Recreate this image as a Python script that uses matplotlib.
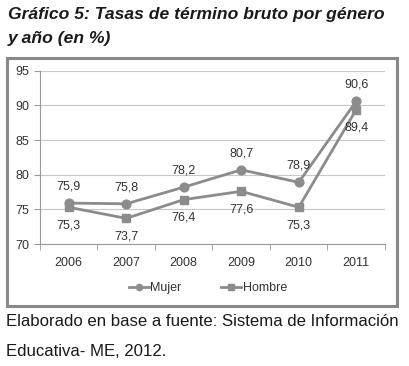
import matplotlib
matplotlib.use("Agg")
import matplotlib.pyplot as plt
from matplotlib.patches import Rectangle

plt.rcParams['font.family'] = ['Liberation Sans', 'DejaVu Sans']

years = ['2006', '2007', '2008', '2009', '2010', '2011']
mujer = [75.9, 75.8, 78.2, 80.7, 78.9, 90.6]
hombre = [75.3, 73.7, 76.4, 77.6, 75.3, 89.4]
mujer_labels = ['75,9', '75,8', '78,2', '80,7', '78,9', '90,6']
hombre_labels = ['75,3', '73,7', '76,4', '77,6', '75,3', '89,4']
yticks = [70, 75, 80, 85, 90, 95]

W, H = 410, 366
fig = plt.figure(figsize=(W / 100, H / 100), dpi=100)

def fx(px):
    return px / W

def fy(py):
    return 1 - py / H

# titulo
fig.text(fx(8), fy(15), 'Gráfico 5: Tasas de término bruto por género',
         fontsize=12.6, fontweight='bold', fontstyle='italic', color='#1a1a1a', va='center')
fig.text(fx(8), fy(38), 'y año (en %)',
         fontsize=12.6, fontweight='bold', fontstyle='italic', color='#1a1a1a', va='center')

# marco del grafico
fig.patches.append(Rectangle((fx(7), fy(306)), fx(397) - fx(7), fy(58) - fy(306),
                             transform=fig.transFigure, fill=False,
                             edgecolor='#888888', linewidth=2.2))

ax = fig.add_axes([fx(40), fy(244), fx(385) - fx(40), fy(70.7) - fy(244)])
x = list(range(len(years)))
col = '#8c8c8c'
ax.plot(x, mujer, color=col, lw=2.0, marker='o', ms=6.3, label='Mujer')
ax.plot(x, hombre, color=col, lw=2.0, marker='s', ms=5.8, label='Hombre')

for i in x:
    ax.annotate(mujer_labels[i], (i, mujer[i]), xytext=(0, 12), textcoords='offset points',
                ha='center', va='center', fontsize=9, color='#333333')
    ax.annotate(hombre_labels[i], (i, hombre[i]), xytext=(0, -13), textcoords='offset points',
                ha='center', va='center', fontsize=9, color='#333333')

ax.set_xlim(-0.5, 5.5)
ax.set_ylim(70, 95)
ax.set_yticks(yticks)
ax.set_xticks(x)
ax.set_xticklabels(years)
ax.set_xticks([i + 0.5 for i in range(-1, 6)], minor=True)
ax.tick_params(axis='x', which='major', length=0, pad=9, labelsize=9, labelcolor='#333333')
ax.tick_params(axis='x', which='minor', length=4, direction='out', color='#999999')
ax.tick_params(axis='y', length=4, direction='out', color='#999999', labelsize=9,
               labelcolor='#333333', pad=4)
ax.grid(axis='y', color='#c8c8c8', lw=0.8)
ax.set_axisbelow(True)
for s in ['top', 'right']:
    ax.spines[s].set_visible(False)
for s in ['left', 'bottom']:
    ax.spines[s].set_color('#999999')
    ax.spines[s].set_linewidth(0.8)

fig.legend(loc='center', bbox_to_anchor=(fx(208), fy(288)), ncol=2, frameon=False,
           fontsize=9, handlelength=1.6, handletextpad=0.1, columnspacing=3.2,
           markerscale=0.7, labelcolor='#333333')

# fuente
fig.text(fx(6), fy(321), 'Elaborado en base a fuente: Sistema de Información',
         fontsize=12.1, color='#1a1a1a', va='center')
fig.text(fx(6), fy(351), 'Educativa- ME, 2012.',
         fontsize=12.1, color='#1a1a1a', va='center')

fig.savefig('out.png', dpi=100)
